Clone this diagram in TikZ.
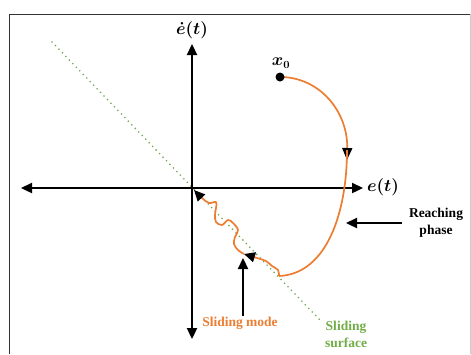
\documentclass[tikz,border=0pt]{standalone}
\usepackage{amsmath,bm}
\usepackage{fontspec}
\setmainfont{Liberation Serif}
\usetikzlibrary{arrows.meta}
\definecolor{orng}{RGB}{237,125,49}
\definecolor{grn}{RGB}{112,173,71}
\begin{document}
\begin{tikzpicture}[x=1pt,y=-1pt,
  axis/.style={line width=2.3pt,{Triangle[length=11pt,width=10pt]}-{Triangle[length=11pt,width=10pt]}},
  pointer/.style={line width=2.3pt,-{Triangle[length=11pt,width=10pt]}},
  traj/.style={orng,line width=1.7pt,line join=round},
  lbl/.style={font=\fontsize{13.5}{17}\selectfont\bfseries,align=center,inner sep=0pt},
  mlbl/.style={font=\fontsize{16}{18}\selectfont\boldmath,inner sep=0pt}]
\useasboundingbox (0,0) rectangle (471,354);
% frame
\draw[line width=1pt,black!80] (9,354) -- (9,14) -- (470,14);
\draw[line width=0.6pt,black!20] (470,14) -- (470,354);
% coordinates
\coordinate (O) at (192,188);
\coordinate (ytop) at (192,44);
\coordinate (ybot) at (192,339);
\coordinate (xl) at (21,188);
\coordinate (xr) at (363,188);
\coordinate (s1) at (52,42);
\coordinate (s2) at (320,320);
\coordinate (x0) at (280,77);
\coordinate (down) at (347,160);
\coordinate (low) at (279,276);
\coordinate (mid) at (244,254);
% sliding surface
\draw[grn!85!gray,line width=1.8pt,line cap=round,dash pattern=on 0pt off 5pt] (s1) -- (s2);
% axes
\draw[axis] (xl) -- (xr);
\draw[axis] (ybot) -- (ytop);
% trajectory
\draw[traj,-{Triangle[length=12pt,width=10pt,color=black]}] (x0) .. controls (320,77) and (348,112) .. (down);
\draw[traj] (347,150) .. controls (347,212) and (327,274) .. (low);
\draw[traj,-{Triangle[length=11pt,width=10pt,color=black]}] plot[smooth,tension=0.6] coordinates {(low) (278,270) (272,266) (266,261) (257,258) (mid)};
\draw[traj,-{Triangle[length=11pt,width=10pt,color=black]}] plot[smooth,tension=0.6] coordinates {(mid) (238,250) (234,244) (235,237) (238,230) (233,223) (228,220) (222,225) (216,222) (215,215) (216,208) (216,202) (209,203) (202,198) (194,190)};
\fill (x0) circle (4.5pt);
% labels
\node[mlbl] (ly) at (192,30) {$\dot{e}(t)$};
\node[mlbl] (lx) at (383,187) {$e(t)$};
\node[mlbl] (lx0) at (281,63) {$x_0$};
\node[lbl] (reach) at (436,223) {Reaching\\phase};
\node[lbl,text=orng] (smode) at (240,323) {Sliding mode};
\node[lbl,text=grn] (ssurf) at (346,334) {Sliding\\surface};
% pointers
\coordinate (rp) at (346,223);
\coordinate (sp) at (243,258);
\draw[pointer] (reach.west) ++(-7,0) coordinate (rs) -- (rp);
\draw[pointer] (243,316) coordinate (ss) -- (sp);
\end{tikzpicture}
\end{document}
